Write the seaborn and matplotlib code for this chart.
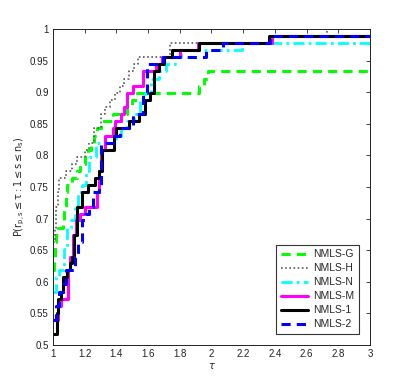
import matplotlib
matplotlib.use("Agg")
import matplotlib.pyplot as plt
import seaborn as sns

# performance profile data (tau breakpoints, step-post values)
tau_g = [1.0, 1.005, 1.01, 1.02, 1.03, 1.06, 1.07, 1.08, 1.09, 1.12, 1.15, 1.17, 1.2, 1.22, 1.24, 1.26,
         1.28, 1.3, 1.38, 1.47, 1.5, 1.53, 1.92, 1.95, 1.98, 3.0]
p_g = [0.618, 0.64, 0.663, 0.674, 0.685, 0.696, 0.719, 0.742, 0.753, 0.764, 0.775, 0.787, 0.798, 0.809,
       0.82, 0.831, 0.843, 0.854, 0.865, 0.876, 0.888, 0.899, 0.91, 0.921, 0.933, 0.933]

tau_h = [1.0, 1.01, 1.02, 1.03, 1.04, 1.08, 1.12, 1.15, 1.2, 1.23, 1.26, 1.3, 1.33, 1.36, 1.39, 1.42,
         1.45, 1.48, 1.51, 1.537, 1.737, 2.38, 2.73, 3.0]
p_h = [0.663, 0.685, 0.719, 0.742, 0.764, 0.775, 0.787, 0.798, 0.809, 0.82, 0.843, 0.865, 0.876, 0.888,
       0.899, 0.91, 0.921, 0.933, 0.944, 0.955, 0.978, 0.989, 1.0, 1.0]

tau_n = [1.0, 1.02, 1.04, 1.07, 1.09, 1.116, 1.14, 1.16, 1.18, 1.21, 1.23, 1.27, 1.4, 1.43, 1.47, 1.51,
         1.55, 1.58, 1.62, 1.67, 1.71, 1.77, 1.81, 2.19, 3.0]
p_n = [0.584, 0.607, 0.618, 0.652, 0.685, 0.697, 0.719, 0.742, 0.753, 0.775, 0.798, 0.82, 0.831, 0.843,
       0.854, 0.865, 0.888, 0.899, 0.921, 0.933, 0.944, 0.955, 0.966, 0.978, 0.978]

tau_m = [1.0, 1.03, 1.05, 1.095, 1.11, 1.125, 1.145, 1.17, 1.2, 1.22, 1.275, 1.29, 1.305, 1.326, 1.35,
         1.38, 1.39, 1.43, 1.45, 1.47, 1.505, 1.57, 1.65, 1.69, 1.8, 1.916, 2.38, 3.0]
p_m = [0.539, 0.562, 0.573, 0.618, 0.64, 0.674, 0.697, 0.708, 0.719, 0.719, 0.742, 0.775, 0.809, 0.831,
       0.831, 0.843, 0.854, 0.865, 0.876, 0.899, 0.91, 0.933, 0.944, 0.955, 0.966, 0.978, 0.989, 0.989]

tau_1 = [1.0, 1.023, 1.03, 1.049, 1.065, 1.086, 1.105, 1.118, 1.13, 1.153, 1.18, 1.218, 1.265, 1.29,
         1.31, 1.385, 1.40, 1.48, 1.54, 1.58, 1.615, 1.635, 1.67, 1.70, 1.75, 1.92, 2.365, 3.0]
p_1 = [0.517, 0.55, 0.573, 0.584, 0.607, 0.618, 0.63, 0.64, 0.674, 0.719, 0.742, 0.753, 0.764, 0.775,
       0.809, 0.831, 0.843, 0.854, 0.865, 0.888, 0.899, 0.933, 0.944, 0.955, 0.966, 0.978, 0.989, 0.989]

tau_2 = [1.0, 1.02, 1.04, 1.06, 1.085, 1.14, 1.16, 1.18, 1.2, 1.225, 1.25, 1.29, 1.305, 1.39, 1.42,
         1.505, 1.57, 1.59, 1.695, 1.965, 2.07, 2.37, 3.0]
p_2 = [0.539, 0.562, 0.584, 0.596, 0.618, 0.64, 0.663, 0.697, 0.708, 0.719, 0.742, 0.753, 0.82, 0.831,
       0.843, 0.865, 0.899, 0.944, 0.955, 0.966, 0.978, 0.989, 0.989]

labels = ["NMLS-G", "NMLS-H", "NMLS-N", "NMLS-M", "NMLS-1", "NMLS-2"]
xticks = [1, 1.2, 1.4, 1.6, 1.8, 2, 2.2, 2.4, 2.6, 2.8, 3]
yticks = [0.5, 0.55, 0.6, 0.65, 0.7, 0.75, 0.8, 0.85, 0.9, 0.95, 1]

sns.set_style("white")
plt.rcParams["font.family"] = ["Liberation Sans", "DejaVu Sans"]

fig = plt.figure(figsize=(4.09, 3.88), dpi=100)
ax = fig.add_axes([0.1296, 0.1108, 0.775, 0.8145])

series = [
    (tau_g, p_g, dict(color=(0, 1, 0), lw=2.2, linestyle=(0, (3, 2)))),
    (tau_h, p_h, dict(color=(0.35, 0.35, 0.35), lw=1.2, linestyle=(0, (1, 1.5)))),
    (tau_n, p_n, dict(color=(0, 1, 1), lw=2.0, linestyle=(0, (4, 1.5, 1, 1.5)))),
    (tau_m, p_m, dict(color=(1, 0, 1), lw=2.2, linestyle="-")),
    (tau_1, p_1, dict(color="black", lw=2.2, linestyle="-")),
    (tau_2, p_2, dict(color=(0, 0, 1), lw=2.2, linestyle=(0, (3, 2)))),
]
for (t, p, st), lab in zip(series, labels):
    sns.lineplot(x=t, y=p, ax=ax, drawstyle="steps-post", label=lab, sort=False, **st)

ax.set_xlim(1, 3)
ax.set_ylim(0.5, 1)
ax.set_xticks(xticks)
ax.set_xticklabels([f"{v:g}" for v in xticks])
ax.set_yticks(yticks)
ax.set_yticklabels([f"{v:g}" for v in yticks])
ax.tick_params(direction="in", top=True, right=True, length=3, width=0.6, labelsize=7,
               colors="#222222", pad=3)
for s in ax.spines.values():
    s.set_color("#222222")
    s.set_linewidth(0.7)
ax.set_xlabel(r"$\tau$", fontsize=7, labelpad=1)
ax.set_ylabel(r"$\mathrm{P(r_{p,s} \leq \tau : 1 \leq s \leq n_s)}$", fontsize=7, labelpad=2)

leg = ax.legend(loc="lower right", fontsize=7.5, frameon=True, fancybox=False,
                edgecolor="black", handlelength=2.6, handletextpad=0.5, borderpad=0.45,
                labelspacing=0.38, bbox_to_anchor=(0.965, 0.035), borderaxespad=0)
leg.get_frame().set_linewidth(0.8)

fig.savefig("out.png", dpi=100)
